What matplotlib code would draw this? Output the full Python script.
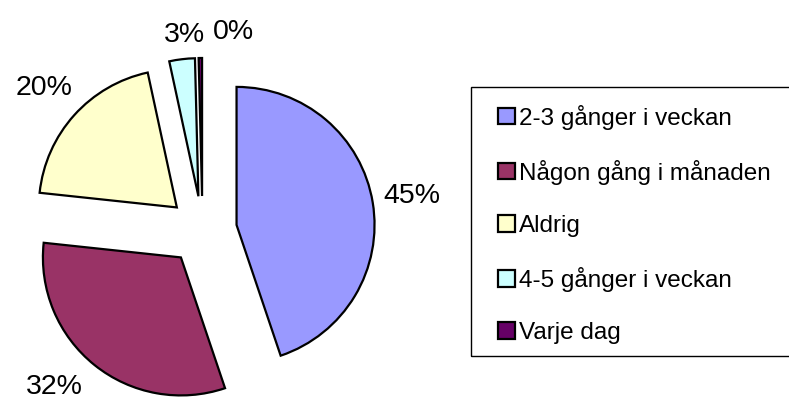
import matplotlib.pyplot as plt
from matplotlib.patches import Rectangle

# data
categories = ['2-3 gånger i veckan', 'Någon gång i månaden', 'Aldrig',
              '4-5 gånger i veckan', 'Varje dag']
shares = [45, 32, 20, 3, 0.4]
colors = ['#9999FF', '#993366', '#FFFFCC', '#CCFFFF', '#660066']

plt.rcParams['font.family'] = ['Liberation Sans', 'DejaVu Sans']

W, H = 789, 403
fig = plt.figure(figsize=(W / 100, H / 100), dpi=100)
ax = fig.add_axes([0, 0, 1, 1])

wedges, labels, pcts = ax.pie(
    shares, colors=colors, startangle=90, counterclock=False,
    explode=[0.25] * len(shares), radius=1,
    autopct='%.0f%%', pctdistance=1.29,
    wedgeprops=dict(edgecolor='black', linewidth=1.6),
    textprops=dict(fontsize=20.5, color='black'))

# nudge labels a bit, like the original layout
x, y = pcts[1].get_position()
pcts[1].set_position((x - 0.11, y + 0.065))
x, y = pcts[3].get_position()
pcts[3].set_position((x + 0.055, y - 0.11))
x, y = pcts[4].get_position()
pcts[4].set_position((x + 0.24, y - 0.10))

# pie center at pixel (202.5, 230.5), radius 138 px
s = 138.0
cx, cy = 202.5, 230.5
ax.set_xlim(-cx / s, (W - cx) / s)
ax.set_ylim(-(H - cy) / s, cy / s)
ax.set_aspect('auto')
ax.axis('off')

# legend
leg = fig.legend(wedges, categories, loc='upper left',
                 bbox_to_anchor=(498 / W, 1 - 104.5 / H),
                 frameon=False, fontsize=17.5, borderpad=0, borderaxespad=0,
                 handlelength=0.68, handleheight=0.68, handletextpad=0.2,
                 labelspacing=1.24)

fig.patches.append(Rectangle((471 / W, 1 - 356 / H), 0.5, 269 / H,
                             transform=fig.transFigure, fill=False,
                             edgecolor='black', linewidth=1.0))

fig.savefig('out.png', dpi=100)
